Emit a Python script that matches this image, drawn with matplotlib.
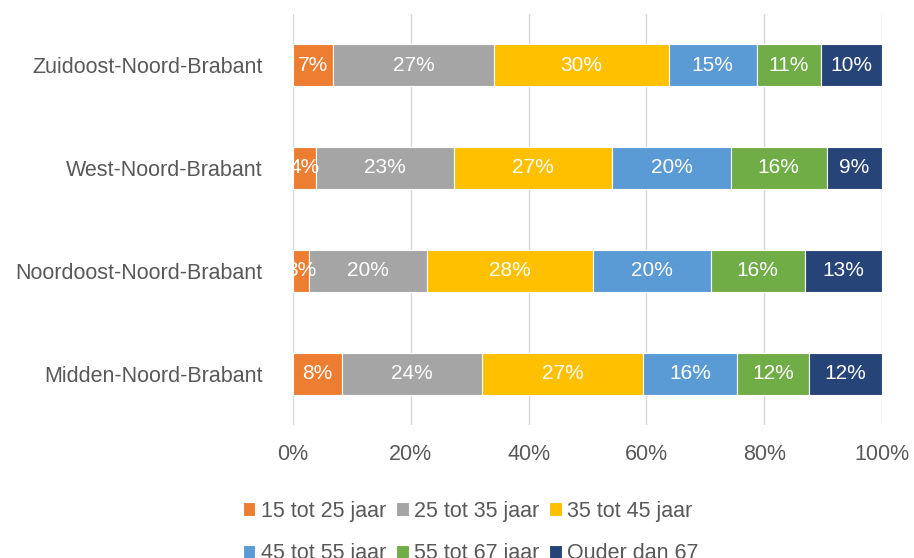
import numpy as np
import matplotlib.pyplot as plt

plt.rcParams['font.family'] = ['Liberation Sans', 'DejaVu Sans']

regions = ['Midden-Noord-Brabant', 'Noordoost-Noord-Brabant',
           'West-Noord-Brabant', 'Zuidoost-Noord-Brabant']
groups = ['15 tot 25 jaar', '25 tot 35 jaar', '35 tot 45 jaar',
          '45 tot 55 jaar', '55 tot 67 jaar', 'Ouder dan 67']
colors = ['#ED7D31', '#A5A5A5', '#FFC000', '#5B9BD5', '#70AD47', '#264478']

# shares per age group, rows follow regions (bottom to top)
g15_25 = [8.3, 2.7, 3.9, 6.8]
g25_35 = [23.8, 20.0, 23.4, 27.4]
g35_45 = [27.3, 28.2, 26.9, 29.6]
g45_55 = [16.0, 20.0, 20.1, 14.9]
g55_67 = [12.2, 16.0, 16.3, 11.0]
g67 = [12.4, 13.1, 9.4, 10.3]
series = [g15_25, g25_35, g35_45, g45_55, g55_67, g67]

txt = '#595959'
fig = plt.figure(figsize=(9.14, 5.58), dpi=100)
ax = fig.add_axes([0.3206, 0.2375, 0.6444, 0.7383])

y = np.arange(len(regions))
left = np.zeros(len(regions))
for name, vals, c in zip(groups, series, colors):
    vals = np.array(vals)
    bars = ax.barh(y, vals, left=left, height=0.4, color=c,
                   edgecolor='white', linewidth=0.8, label=name, zorder=3)
    for b, v in zip(bars, vals):
        ax.text(b.get_x() + b.get_width() / 2, b.get_y() + b.get_height() / 2,
                '%d%%' % round(v), ha='center', va='center',
                color='white', fontsize=15, zorder=4)
    left += vals

ax.set_xlim(0, 100)
ax.set_ylim(-0.5, 3.5)
ax.set_xticks(np.arange(0, 101, 20))
ax.set_xticklabels(['%d%%' % t for t in range(0, 101, 20)])
ax.set_yticks(y)
ax.set_yticklabels(regions)
ax.tick_params(length=0, labelsize=15.5, colors=txt)
ax.tick_params(axis='x', pad=13)
ax.tick_params(axis='y', pad=22)
ax.grid(axis='x', color='#D9D9D9', linewidth=1, zorder=0)
for s in ax.spines.values():
    s.set_visible(False)

# legend reads row by row: reorder for matplotlib's column filling
h, l = ax.get_legend_handles_labels()
order = [0, 3, 1, 4, 2, 5]
leg = fig.legend([h[i] for i in order], [l[i] for i in order],
                 loc='upper center', bbox_to_anchor=(0.515, 0.118), ncol=3,
                 frameon=False, fontsize=15.5, handlelength=0.6,
                 handleheight=0.6, handletextpad=0.25, columnspacing=0.45,
                 labelspacing=1.0, borderaxespad=0)
for t in leg.get_texts():
    t.set_color(txt)

fig.savefig('out.png', dpi=100)
